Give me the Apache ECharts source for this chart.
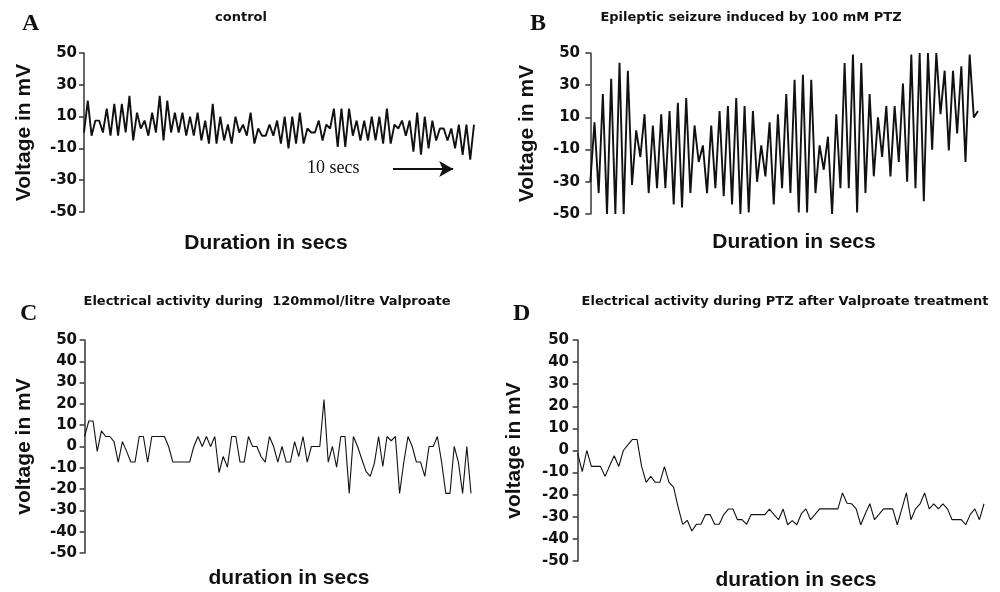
<!DOCTYPE html>
<html>
<head>
<meta charset="utf-8">
<script src="https://cdn.jsdelivr.net/npm/echarts@6/dist/echarts.min.js"></script>
<style>html,body{margin:0;padding:0;background:#fff}#c{width:1000px;height:592px}</style>
</head>
<body>
<div id="c"></div>
<script>
// ---- data (mV) ----
const controlValues = [0,20,-2,7.5,7.5,0,15,-2,18,-2,
  18,0,23,-5,12.5,2.5,7.5,-2,12.5,0,
  23,-5,20,0,12.5,0,12.5,-2,10,-2,
  12.5,-5,7.5,-7,18,-7,10,-5,5,-7,
  10,0,5,-2,12.5,-7,2.5,-2,-2,5,
  -2,7.5,-7,10,-10,10,-7,12.5,-7,2.5,
  0,0,7.5,-5,5,2.5,15,-9,15,-9,
  15,-2,7.5,-5,7.5,-5,10,-5,10,-7,
  15,-7,5,2.5,7.5,-2,7.5,-12,12.5,-14,
  10,-10,7.5,-5,2.5,2.5,-5,2.5,-10,5,
  -14,5,-17,5];
const ptzValues = [-30,7,-37,24.5,-50,34,-50,44,-50,39,
  -32,2,-14.6,12,-37,5,-34,12,-34,14,
  -44,19,-46,22,-37,5,-17.7,-7.4,-37,5,
  -34,14,-39,17,-44,22,-50,17,-49,14,
  -30,-7.4,-26.6,7,-44,12,-34,24.5,-37,33.4,
  -49,36.5,-49,33.4,-37,-7.4,-22.5,-2,-50,12,
  -34,43.7,-34,49,-49,43.7,-37,24.5,-26.6,10,
  -14.6,17,-26.6,17,-17.7,31,-30,49,-34,50,
  -42,50,-10,50,12,39,-10.5,39,0,41.7,
  -17.7,49,10,14];
const valproateValues = [4.7,12,12,-2.3,7.3,4.7,4.7,2.3,-7.3,2.3,
  -2.3,-7.3,-7.3,4.7,4.7,-7.3,4.7,4.7,4.7,4.7,
  0,-7.3,-7.3,-7.3,-7.3,-7.3,0,4.7,0,4.7,
  0,4.7,-12.2,-4.7,-9.7,4.7,4.7,-7.3,-7.3,4.7,
  0,0,-4.7,-7.3,4.7,0,-7.3,0,-7.3,-7.3,
  2.3,-4.7,4.7,-7.3,0,0,0,22,-7.3,0,
  -9.7,4.7,4.7,-22,4.7,0,-6,-11.7,-14,-7.8,
  4.7,-9.4,4.7,2.7,4.7,-22,-7.3,4.7,0,-7.3,
  -7.3,-14,0,0,4.7,-7.3,-22,-22,0,-7.3,
  -22,0,-22];
const ptzAfterValproateValues = [-1.3,-9.6,0,-7.2,-7.2,-7.2,-11.7,-6.9,-2.4,-7.2,
  0,2.5,5,5,-7.2,-14.4,-11.7,-14.4,-14.4,-7.3,
  -14.4,-16.6,-25.6,-33.4,-31.6,-36.4,-33.4,-33.4,-29,-29,
  -33.4,-33.4,-29,-26.5,-26.5,-31.3,-31.3,-33.4,-29,-29,
  -29,-29,-26.5,-29,-31.3,-26.5,
  -33.6,-31.7,-33.6,-28.6,-26.4,-31.3,-28.9,-26.4,-26.4,-26.4,
  -26.4,-26.4,-19.2,-23.9,-24.1,-26.4,-33.6,-28.6,-24.1,-31.3,
  -28.9,-26.4,-26.4,-26.4,-33.6,-26.4,-19.2,-31.3,-26.4,-24.1,
  -19.2,-26.4,-24.1,-26.4,-24.1,-26.4,-31.3,-31.3,-31.3,-33.6,
  -28.9,-26.4,-31.3,-24.1];

const ticksTop = [-50,-30,-10,10,30,50];
const ticksBottom = [-50,-40,-30,-20,-10,0,10,20,30,40,50];

const panelTitles = ['control','Epileptic seizure induced by 100 mM PTZ',
  'Electrical activity during  120mmol/litre Valproate',
  'Electrical activity during PTZ after Valproate treatment'];
const panelLetters = ['A','B','C','D'];
const yNames = ['Voltage in mV','Voltage in mV','voltage in mV','voltage in mV'];
const xNames = ['Duration in secs','Duration in secs','duration in secs','duration in secs'];
const annotationText = '10 secs';

// ---- layout ----
const grids = [
  {left:84, top:53, width:390, height:159},
  {left:587, top:53, width:391, height:161},
  {left:84, top:340, width:387, height:213},
  {left:576, top:340, width:408, height:223}
];
const seriesList = [controlValues, ptzValues, valproateValues, ptzAfterValproateValues];
const xMin = [0, -0.8, -0.15, -0.37];
const yGap = [49, 49, 49, 51];
const xGap = [21, 18, 15, 9];
const xNamePad = [[0,26,0,0],[0,0,0,23],[0,0,0,23],[0,0,0,32]];
const lineW = [1.9, 1.9, 1.1, 1.1];
const titleCenters = [[241,11],[751,11],[267,295],[785,295]];
const letterPos = [[22,12],[530,12],[20,302],[513,302]];

const axisColor = '#333';
const textColor = '#111';

const option = {
  animation: false,
  backgroundColor: '#fff',
  title: [
    ...panelTitles.map((t,i)=>({
      text: t, left: titleCenters[i][0], top: titleCenters[i][1], textAlign: 'center', padding: 0,
      textStyle: {fontFamily: 'DejaVu Sans', fontWeight: 'bold', fontSize: 13, color: textColor}
    })),
    ...panelLetters.map((t,i)=>({
      text: t, left: letterPos[i][0], top: letterPos[i][1], padding: 0,
      textStyle: {fontFamily: 'Liberation Serif', fontWeight: 'bold', fontSize: 24, color: textColor}
    }))
  ],
  grid: grids.map(g=>Object.assign({containLabel:false}, g)),
  xAxis: seriesList.map((s,i)=>({
    type: 'value', gridIndex: i, min: xMin[i], max: s.length-1,
    axisLine: {show:false}, axisTick: {show:false}, axisLabel: {show:false}, splitLine: {show:false},
    name: xNames[i], nameLocation: 'middle', nameGap: xGap[i],
    nameTextStyle: {fontFamily:'Liberation Sans', fontWeight:'bold', fontSize:21, color:textColor, padding:xNamePad[i]}
  })),
  yAxis: seriesList.map((s,i)=>{
    const ticks = i < 2 ? ticksTop : ticksBottom;
    return {
      type: 'value', gridIndex: i, min: -50, max: 50,
      axisLine: {show:true, lineStyle:{color:axisColor, width:1.5}},
      axisTick: {show:true, length:5, lineStyle:{color:axisColor, width:1.5}, customValues: ticks},
      axisLabel: {show:true, margin:7, customValues: ticks, fontFamily:'DejaVu Sans', fontWeight:'bold',
        fontSize: 15, color:textColor},
      splitLine: {show:false},
      name: yNames[i], nameLocation: 'middle', nameGap: yGap[i],
      nameTextStyle: {fontFamily:'Liberation Sans', fontWeight:'bold', fontSize:21, color:textColor}
    };
  }),
  series: seriesList.map((s,i)=>{
    const ser = {
      type: 'line', xAxisIndex: i, yAxisIndex: i,
      data: s.map((v,k)=>[k,v]),
      symbol: 'none', showSymbol: false, silent: true,
      lineStyle: {color:'#111', width: lineW[i]}
    };
    if (i === 0) {
      ser.markLine = {
        silent: true, symbol: ['none','arrow'], symbolSize: [12,14],
        label: {show:false},
        lineStyle: {color:'#111', width:2, type:'solid'},
        data: [[{coord:[81.6,-23]},{coord:[97.5,-23]}]]
      };
    }
    return ser;
  }),
  graphic: [{
    type: 'text', left: 307, top: 159,
    style: {text: annotationText, font: '18px "Liberation Serif"', fill: textColor}
  }]
};

const chart = echarts.init(document.getElementById('c'), null, {renderer:'canvas'});
chart.setOption(option);
</script>
</body>
</html>
